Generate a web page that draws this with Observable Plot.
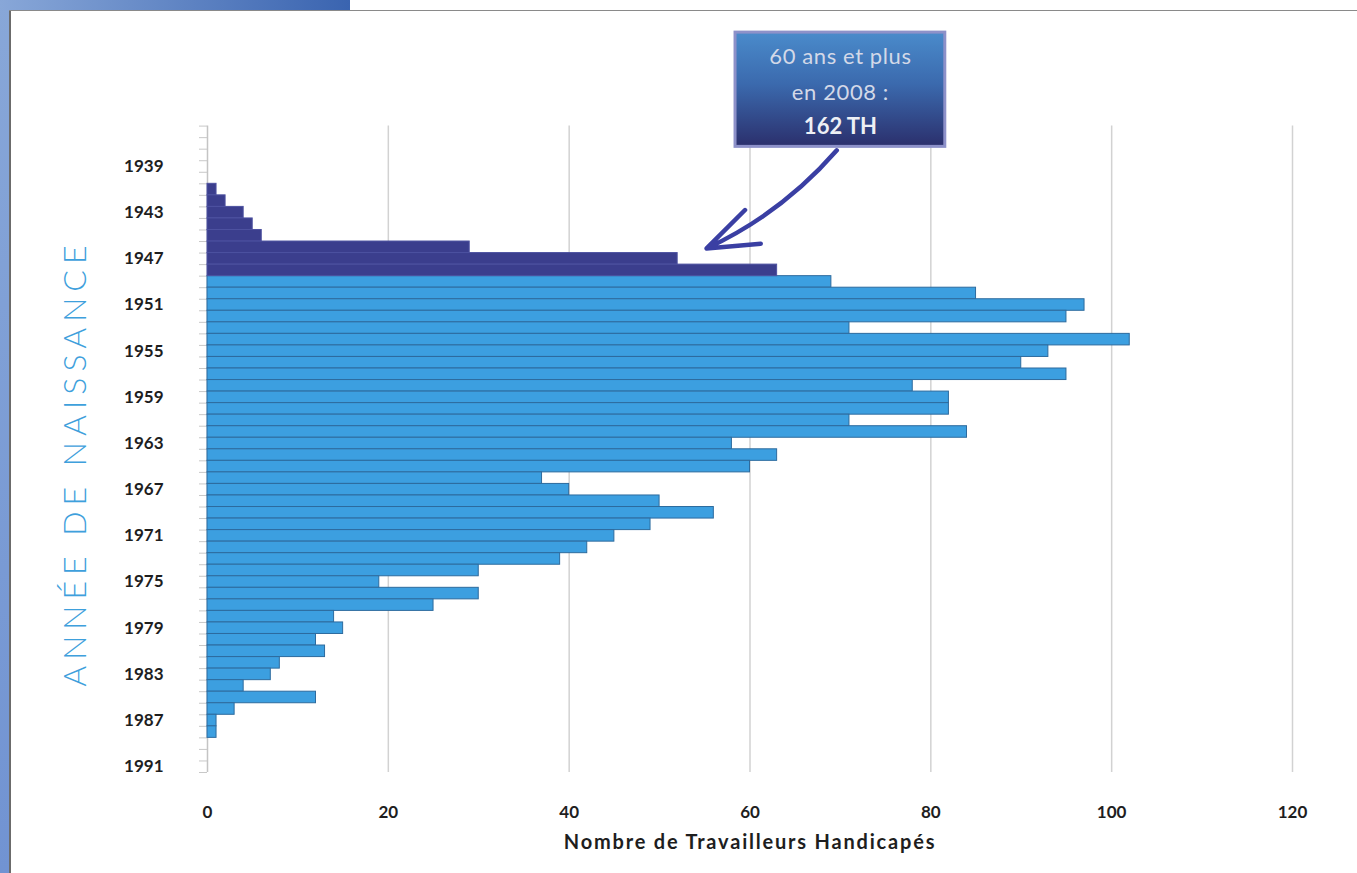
<!DOCTYPE html>
<html>
<head>
<meta charset="utf-8">
<script src="https://cdn.jsdelivr.net/npm/d3@7"></script>
<script src="https://cdn.jsdelivr.net/npm/@observablehq/plot@0.6"></script>
<style>
  html, body { margin: 0; padding: 0; background: #fff; overflow: hidden; }
  #wrap { position: relative; width: 1357px; height: 873px; overflow: hidden; background: #fff; }
  #left { position: absolute; left: 0; top: 0; width: 9px; height: 873px; background: linear-gradient(#88a7d8, #7193d2); }
  #top { position: absolute; left: 0; top: 0; width: 350px; height: 10px; background: linear-gradient(90deg, #88a7d8, #3a64b0); }
  #vline { position: absolute; left: 9px; top: 10px; width: 2px; height: 863px; background: #6b6b6b; }
  #hline { position: absolute; left: 9px; top: 10px; width: 1348px; height: 1px; background: #8a8a8a; }
  #chart { position: absolute; left: 0; top: 0; }
</style>
</head>
<body>
<div id="wrap">
  <div id="left"></div>
  <div id="top"></div>
  <div id="vline"></div>
  <div id="hline"></div>
  <div id="chart"></div>
</div>
<script>
// ---- data ----
const years = [1941, 1942, 1943, 1944, 1945, 1946, 1947, 1948,
  1949, 1950, 1951, 1952, 1953, 1954, 1955, 1956, 1957, 1958,
  1959, 1960, 1961, 1962, 1963, 1964, 1965, 1966, 1967, 1968,
  1969, 1970, 1971, 1972, 1973, 1974, 1975, 1976, 1977, 1978,
  1979, 1980, 1981, 1982, 1983, 1984, 1985, 1986, 1987, 1988];
const counts = [1, 2, 4, 5, 6, 29, 52, 63,
  69, 85, 97, 95, 71, 102, 93, 90, 95, 78,
  82, 82, 71, 84, 58, 63, 60, 37, 40, 50,
  56, 49, 45, 42, 39, 30, 19, 30, 25, 14,
  15, 12, 13, 8, 7, 4, 12, 3, 1, 1];
const yearTickLabels = [1939, 1943, 1947, 1951, 1955, 1959, 1963, 1967, 1971, 1975, 1979, 1983, 1987, 1991];
const xTickLabels = [0, 20, 40, 60, 80, 100, 120];
const yearDomain = [1936, 1991];
const referenceYear = 2008;
const seniorAge = 60;

const yTitle = "ANNÉE DE NAISSANCE";
const xTitle = "Nombre de Travailleurs Handicapés";
const calloutLines = ["60 ans et plus", "en 2008 :"];
const calloutTotal = "162 TH";

const darkColor = "#3b3e8d";
const lightColor = "#3c9fe0";

// ---- derived table ----
const data = years.map((y, i) => ({year: y, count: counts[i], senior: referenceYear - y >= seniorAge}));
const boundaries = d3.range(yearDomain[0] - 0.5, yearDomain[1] + 1, 1);

// annotation placement (in data units)
const yTitlePos = [{x: -14.6, y: 1964.7, text: yTitle}];
const callout = [{x1: 58.4, x2: 81.6, y1: 1927.4, y2: 1937.3}];
const calloutText = [
  {x: 70, y: 1929.55, text: calloutLines[0]},
  {x: 70, y: 1932.6, text: calloutLines[1]}
];
const calloutBold = [{x: 70, y: 1935.55, text: calloutTotal}];
const arrowData = [{x1: 69.6, y1: 1937.6, x2: 55.2, y2: 1946.1}];

const defs = () => {
  const d = d3.create("svg:defs");
  const g = d.append("linearGradient").attr("id", "boxGrad")
    .attr("x1", 0).attr("y1", 0).attr("x2", 0).attr("y2", 1);
  g.append("stop").attr("offset", "0%").attr("stop-color", "#4a8bcb");
  g.append("stop").attr("offset", "45%").attr("stop-color", "#3b6aae");
  g.append("stop").attr("offset", "100%").attr("stop-color", "#2b2f6c");
  return d.node();
};

const chart = Plot.plot({
  width: 1357,
  height: 873,
  marginLeft: 207,
  marginRight: 65,
  marginTop: 125.6,
  marginBottom: 101,
  style: {background: "transparent", fontFamily: "Lato, 'Open Sans', sans-serif", overflow: "visible"},
  x: {domain: [0, 120], label: null},
  y: {domain: [yearDomain[0] - 0.5, yearDomain[1] + 0.5], reverse: true, label: null},
  marks: [
    defs,
    Plot.gridX(xTickLabels.filter(d => d > 0), {stroke: "#d2d2d2", strokeOpacity: 1, strokeWidth: 1.5}),
    Plot.ruleX([0], {stroke: "#c4c4c4", strokeWidth: 1.5}),
    Plot.axisY(boundaries, {tickSize: 8, tickFormat: () => "", stroke: "#c8c8c8"}),
    Plot.axisY(yearTickLabels, {tickSize: 0, tickPadding: 44, fontSize: 17, fontWeight: "bold", fill: "#1e1e1e", tickFormat: d => String(d)}),
    Plot.axisX(xTickLabels, {tickSize: 0, tickPadding: 33, fontSize: 17, fontWeight: "bold", fill: "#1e1e1e"}),
    Plot.rect(data.filter(d => !d.senior), {x1: 0, x2: "count", y1: d => d.year - 0.5, y2: d => d.year + 0.5, fill: lightColor, stroke: "#2d6b9e", strokeWidth: 1}),
    Plot.rect(data.filter(d => d.senior), {x1: 0, x2: "count", y1: d => d.year - 0.5, y2: d => d.year + 0.5, fill: darkColor, stroke: "#4d51a0", strokeWidth: 1}),
    Plot.text(yTitlePos, {x: "x", y: "y", text: "text", rotate: -90, fontSize: 32, fontWeight: 300, fill: "#3ea0dc"}),
    Plot.text([xTitle], {frameAnchor: "bottom", dy: 76, fontSize: 20, fontWeight: "bold", fill: "#1e1e1e"}),
    Plot.rect(callout, {x1: "x1", x2: "x2", y1: "y1", y2: "y2", fill: "url(#boxGrad)", stroke: "#8d91c9", strokeWidth: 3}),
    Plot.text(calloutText, {x: "x", y: "y", text: "text", fontSize: 22, fontWeight: 400, fill: "#d3d9e8"}),
    Plot.text(calloutBold, {x: "x", y: "y", text: "text", fontSize: 22, fontWeight: "bold", fill: "#eef0f5"}),
    Plot.arrow(arrowData, {x1: "x1", y1: "y1", x2: "x2", y2: "y2", bend: 12, stroke: "#3a3fa3", strokeWidth: 4.5, headLength: 26, headAngle: 40})
  ]
});

d3.select(chart).selectAll("text").each(function() {
  const t = this.textContent;
  if (t === yTitle) d3.select(this).attr("letter-spacing", 6);
  if (t === xTitle) d3.select(this).attr("letter-spacing", 1.8);
  if (calloutLines.includes(t)) d3.select(this).attr("letter-spacing", 0.6);
});

document.getElementById("chart").appendChild(chart);
</script>
</body>
</html>
